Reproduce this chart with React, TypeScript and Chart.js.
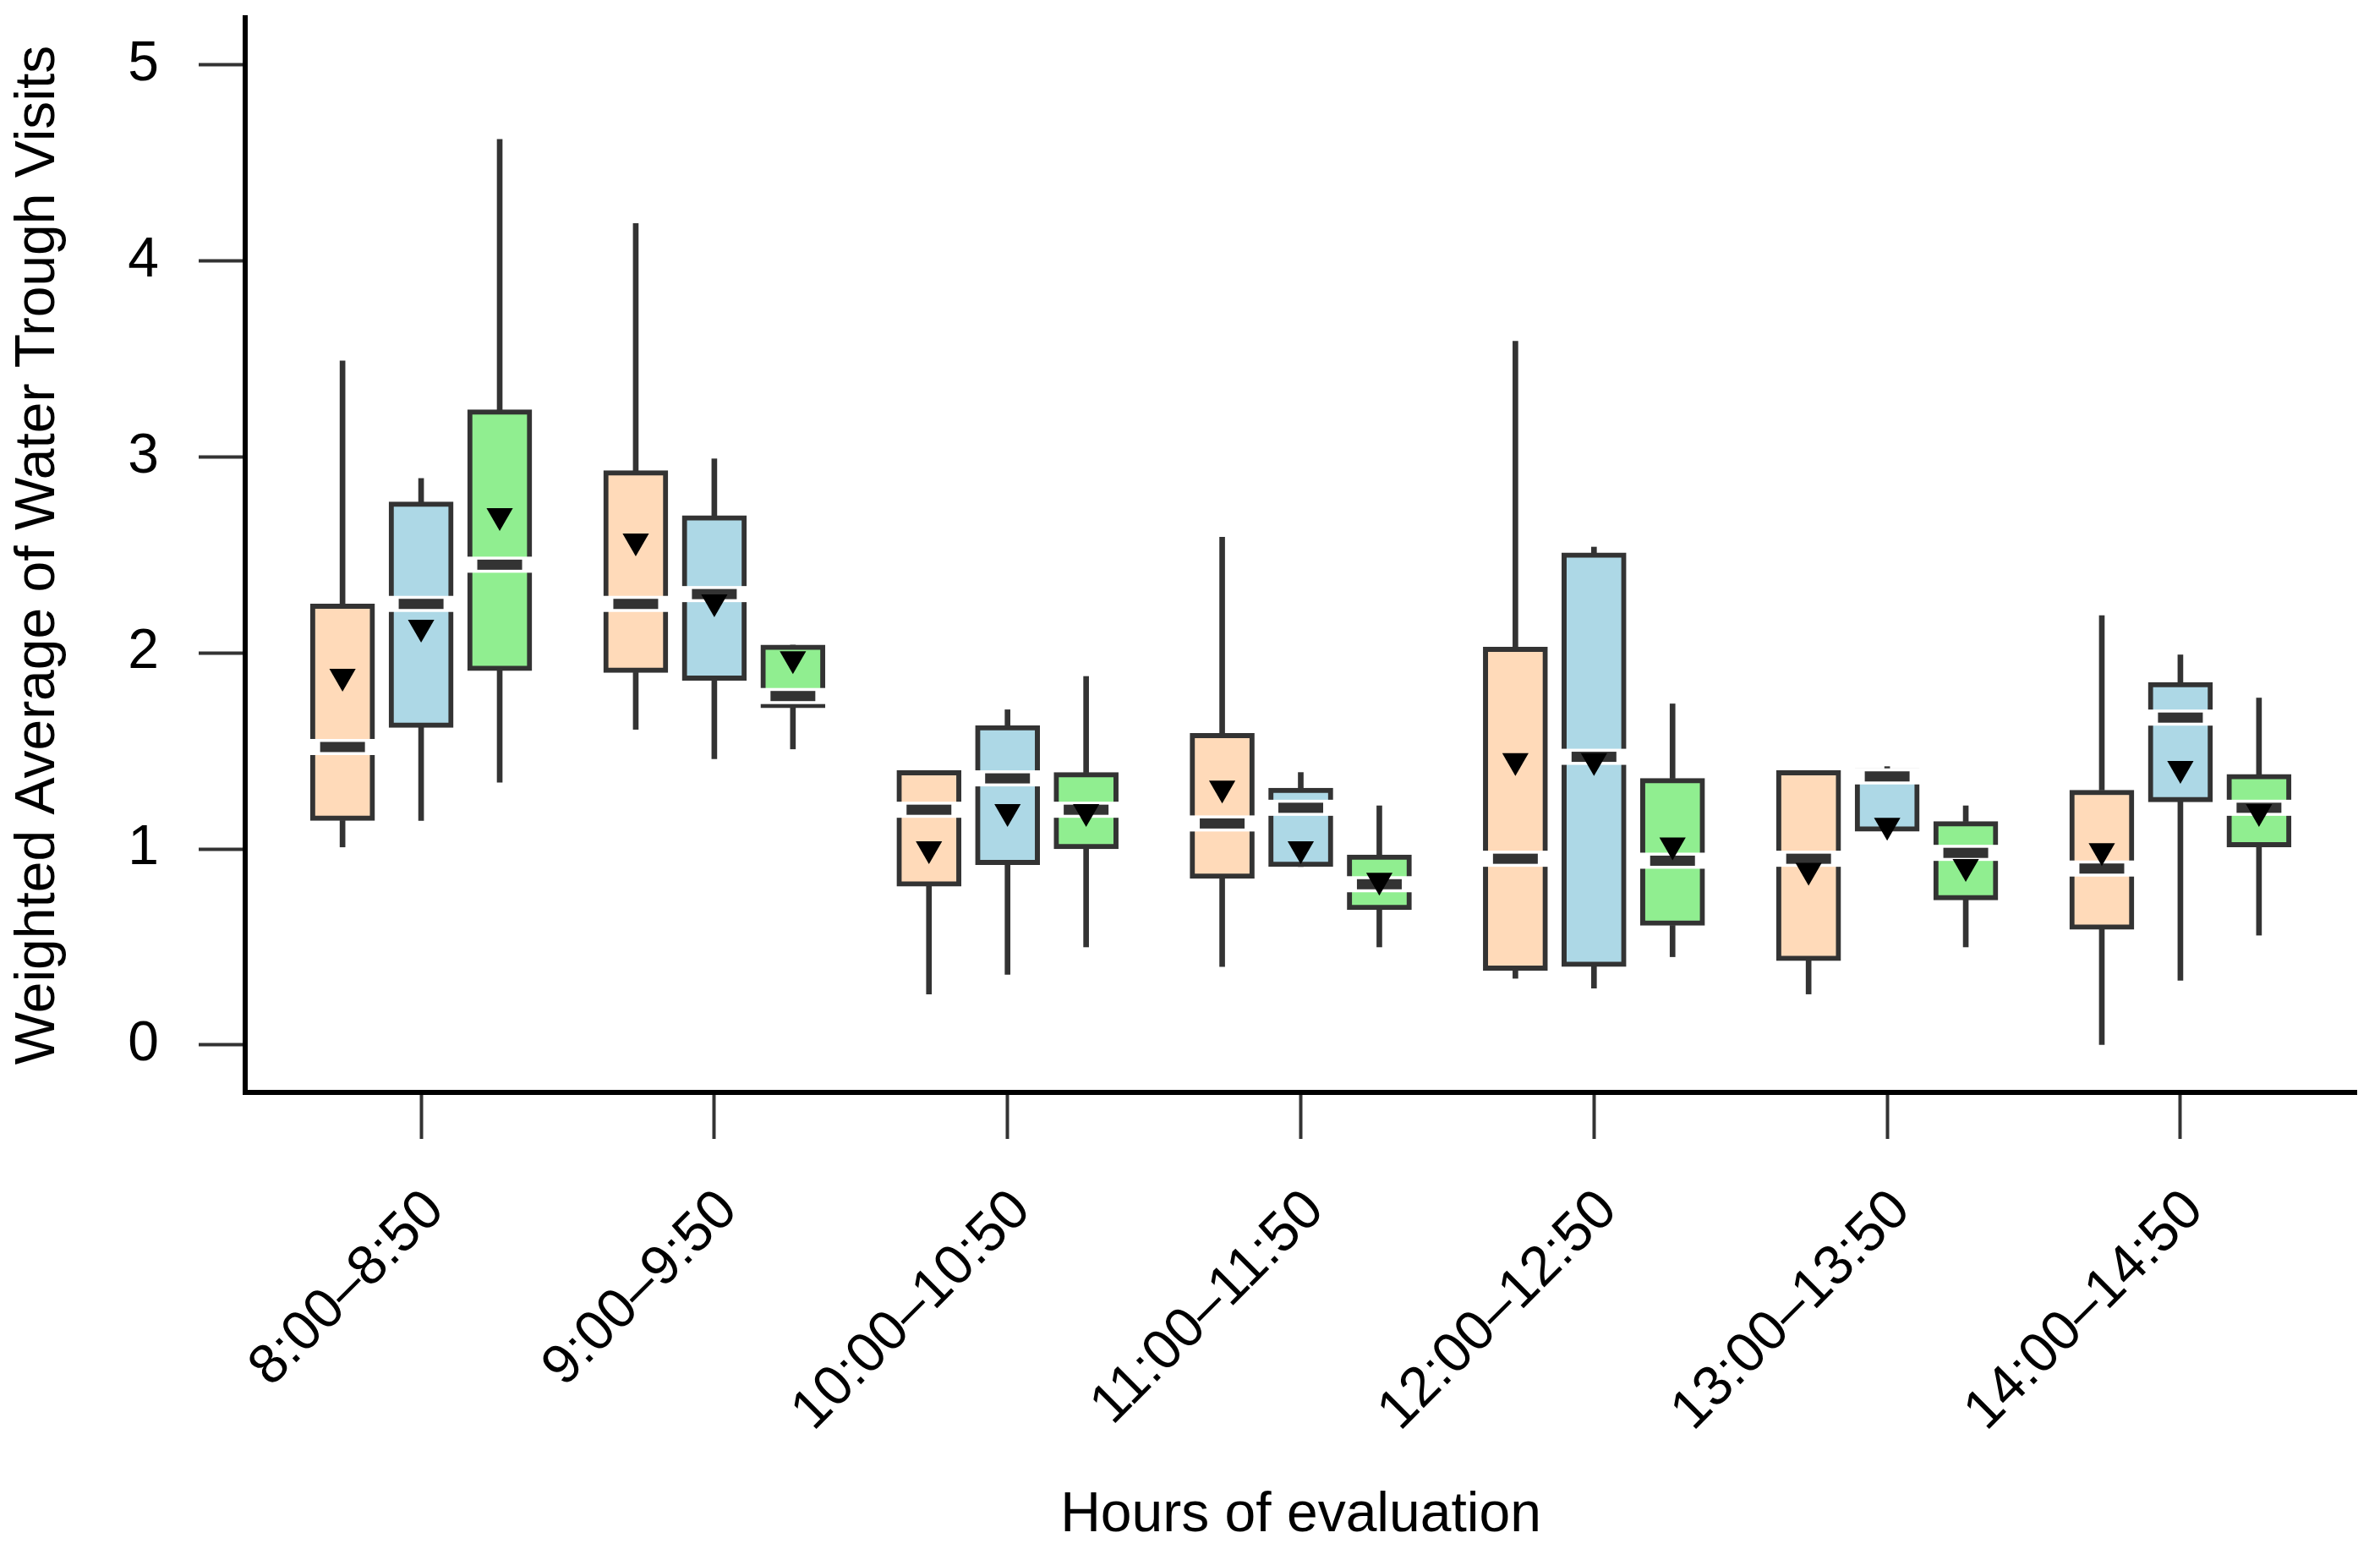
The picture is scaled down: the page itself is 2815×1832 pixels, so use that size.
import { useEffect, useRef } from 'react'
import { Chart, registerables } from 'chart.js'

Chart.register(...registerables)

const categories = ['8:00–8:50', '9:00–9:50', '10:00–10:50', '11:00–11:50', '12:00–12:50', '13:00–13:50', '14:00–14:50']
const yTicks = [0, 1, 2, 3, 4, 5]

// peach series
const peachMin = [1.01, 1.61, 0.26, 0.4, 0.34, 0.26, 0.0]
const peachQ1 = [1.145, 1.9, 0.81, 0.85, 0.38, 0.43, 0.59]
const peachMedian = [1.52, 2.25, 1.2, 1.13, 0.95, 0.95, 0.9]
const peachQ3 = [2.25, 2.93, 1.4, 1.59, 2.03, 1.4, 1.3]
const peachMax = [3.49, 4.19, 1.4, 2.59, 3.59, 1.4, 2.19]
const peachMean = [1.88, 2.57, 1.0, 1.31, 1.45, 0.89, 0.99]

// blue series
const blueMin = [1.145, 1.46, 0.36, 0.91, 0.29, 1.09, 0.33]
const blueQ1 = [1.62, 1.86, 0.92, 0.91, 0.4, 1.09, 1.24]
const blueMedian = [2.25, 2.3, 1.36, 1.21, 1.47, 1.37, 1.67]
const blueQ3 = [2.77, 2.7, 1.63, 1.31, 2.51, 1.41, 1.85]
const blueMax = [2.89, 2.99, 1.71, 1.39, 2.54, 1.42, 1.99]
const blueMean = [2.13, 2.26, 1.19, 1.0, 1.45, 1.12, 1.41]

// green series
const greenMin = [1.34, 1.51, 0.5, 0.5, 0.45, 0.5, 0.56]
const greenQ1 = [1.91, 1.72, 1.0, 0.69, 0.61, 0.74, 1.01]
const greenMedian = [2.45, 1.78, 1.2, 0.82, 0.94, 0.98, 1.21]
const greenQ3 = [3.24, 2.04, 1.39, 0.97, 1.36, 1.14, 1.38]
const greenMax = [4.62, 2.04, 1.88, 1.22, 1.74, 1.22, 1.77]
const greenMean = [2.7, 1.97, 1.19, 0.84, 1.02, 0.91, 1.19]

const series = [
  { fill: '#FFDAB9', offset: -0.268, min: peachMin, q1: peachQ1, med: peachMedian, q3: peachQ3, max: peachMax, mean: peachMean },
  { fill: '#ADD8E6', offset: 0, min: blueMin, q1: blueQ1, med: blueMedian, q3: blueQ3, max: blueMax, mean: blueMean },
  { fill: '#90EE90', offset: 0.268, min: greenMin, q1: greenQ1, med: greenMedian, q3: greenQ3, max: greenMax, mean: greenMean },
]

const INK = '#333333'
const FONT = 'Liberation Sans, Arial, Helvetica, sans-serif'

// white notch band + dark median bar, drawn right after each box dataset
const medianPlugin = {
  id: 'medianNotch',
  afterDatasetDraw(chart: any, args: any) {
    const ds = chart.data.datasets[args.index]
    if (!ds.medians) return
    const { ctx } = chart
    const y = chart.scales.y
    ctx.save()
    args.meta.data.forEach((bar: any, i: number) => {
      const cy = y.getPixelForValue(ds.medians[i])
      ctx.fillStyle = '#ffffff'
      ctx.fillRect(bar.x - 40, cy - 9.5, 80, 19)
      ctx.fillStyle = INK
      ctx.fillRect(bar.x - 26.5, cy - 6, 53, 12)
    })
    ctx.restore()
  },
}

const BoxChart = () => {
  const canvasRef = useRef<HTMLCanvasElement>(null)

  useEffect(() => {
    const whiskers = series.map((s) => ({
      type: 'bar' as const,
      data: categories.flatMap((_, i) => [
        { x: i + s.offset, y: [s.min[i], s.q1[i]] },
        { x: i + s.offset, y: [s.q3[i], s.max[i]] },
      ]),
      backgroundColor: INK,
      borderWidth: 0,
      barThickness: 6,
      maxBarThickness: 6,
      grouped: false,
      order: 3,
    }))

    const boxes = series.map((s) => ({
      type: 'bar' as const,
      data: categories.map((_, i) => ({ x: i + s.offset, y: [s.q1[i], s.q3[i]] })),
      medians: s.med,
      backgroundColor: s.fill,
      borderColor: INK,
      borderWidth: 6,
      borderSkipped: false,
      barThickness: 76,
      maxBarThickness: 76,
      grouped: false,
      order: 2,
    }))

    const means = series.map((s) => ({
      type: 'scatter' as const,
      data: categories.map((_, i) => ({ x: i + s.offset, y: s.mean[i] })),
      pointStyle: 'triangle',
      rotation: 180,
      pointRadius: 18,
      pointHoverRadius: 18,
      backgroundColor: '#000000',
      borderColor: '#000000',
      borderWidth: 0,
      order: 1,
    }))

    const chart = new Chart(canvasRef.current!, {
      type: 'bar',
      data: { datasets: [...whiskers, ...boxes, ...means] as any },
      options: {
        animation: false,
        responsive: true,
        maintainAspectRatio: false,
        layout: { padding: { top: 21, right: 28, left: 0, bottom: 0 } },
        plugins: { legend: { display: false }, tooltip: { enabled: false } },
        scales: {
          x: {
            type: 'linear',
            offset: false,
            min: -0.6,
            max: 6.6,
            afterBuildTicks: (axis: any) => {
              axis.ticks = categories.map((_, i) => ({ value: i }))
            },
            afterFit: (axis: any) => {
              axis.height = 540
              axis.paddingLeft = 0
              axis.paddingRight = 0
            },
            ticks: {
              callback: (v: any) => categories[v] ?? '',
              font: { size: 66, family: FONT },
              color: '#000000',
              minRotation: 45,
              maxRotation: 45,
              autoSkip: false,
              padding: 46,
              labelOffset: 17,
            },
            grid: { offset: false, drawOnChartArea: false, drawTicks: true, tickLength: 55, tickWidth: 4, tickColor: INK },
            border: { display: true, color: '#000000', width: 6 },
            title: {
              display: true,
              text: 'Hours of evaluation',
              font: { size: 66, family: FONT },
              color: '#000000',
              padding: { top: 0, bottom: 0 },
            },
          },
          y: {
            min: -0.242,
            max: 5.24,
            afterBuildTicks: (axis: any) => {
              axis.ticks = yTicks.map((v) => ({ value: v }))
            },
            afterFit: (axis: any) => {
              axis.width = 290
              axis.paddingTop = 0
              axis.paddingBottom = 0
            },
            ticks: {
              font: { size: 66, family: FONT },
              color: '#000000',
              padding: 47,
            },
            grid: { drawOnChartArea: false, drawTicks: true, tickLength: 55, tickWidth: 4, tickColor: INK },
            border: { display: true, color: '#000000', width: 6 },
            title: {
              display: true,
              text: 'Weighted Average of Water Trough Visits',
              font: { size: 66, family: FONT },
              color: '#000000',
              padding: { top: 6, bottom: 0 },
            },
          },
        },
      },
      plugins: [medianPlugin],
    })

    return () => chart.destroy()
  }, [])

  return <canvas ref={canvasRef}></canvas>
}

export default function App() {
  return (
    <div style={{ position: 'absolute', left: 0, top: 0, width: 2815, height: 1832, background: '#ffffff' }}>
      <BoxChart />
    </div>
  )
}
